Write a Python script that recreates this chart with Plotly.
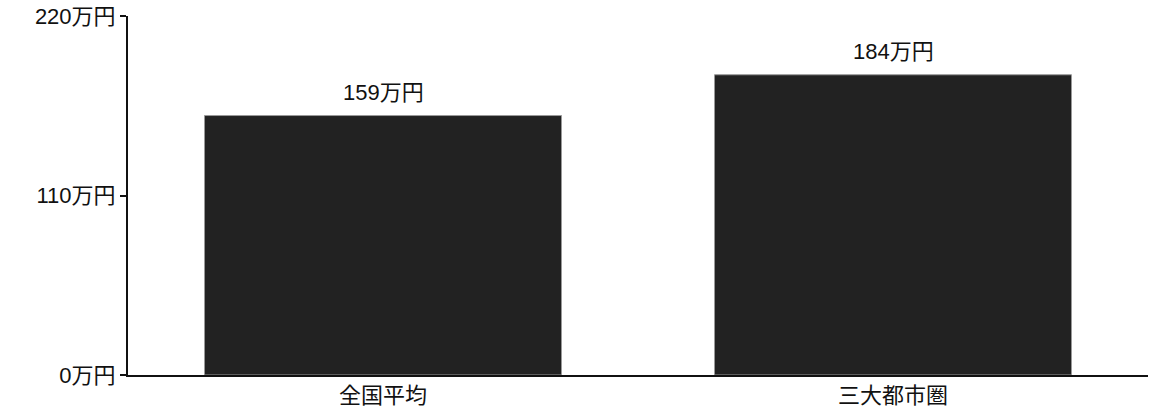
import plotly.graph_objects as go

categories = ["全国平均", "三大都市圏"]
values = [159, 184]
tick_values = [0, 110, 220]
tick_labels = ["0万円", "110万円", "220万円"]

# Liberation Sans for digits, CJK font picks up the kanji
font_family = "Liberation Sans, Noto Sans CJK JP, sans-serif"

fig = go.Figure(data=[go.Bar(
    x=categories,
    y=values,
    marker=dict(color="#222222", line=dict(color="#999999", width=1)),
)])

# value labels above the bars
for cat, val in zip(categories, values):
    fig.add_annotation(
        x=cat, y=val, text=f"{val}万円",
        showarrow=False, yanchor="bottom", yshift=9,
        font=dict(size=22, color="#111111"),
    )

fig.update_layout(
    width=1150, height=420,
    margin=dict(l=128, r=2, t=16, b=45),
    paper_bgcolor="white", plot_bgcolor="white",
    font=dict(family=font_family, size=22, color="#111111"),
    bargap=0.3,
    showlegend=False,
)
fig.update_xaxes(
    showline=True, linecolor="#111111", linewidth=2,
    ticks="", showgrid=False,
    tickfont=dict(size=22),
    automargin=False,
)
fig.update_yaxes(
    range=[0, 220],
    tickvals=tick_values, ticktext=tick_labels,
    showline=True, linecolor="#111111", linewidth=2,
    ticks="outside", ticklen=6, tickwidth=2, tickcolor="#111111",
    showgrid=False, zeroline=False,
    tickfont=dict(size=22),
    ticklabeloverflow="allow",
    automargin=False,
)

# drop the default 8px body margin so the figure fills the window exactly
fig.write_html(
    "out.html",
    config={"displayModeBar": False},
    post_script="document.body.style.margin = '0';",
)
